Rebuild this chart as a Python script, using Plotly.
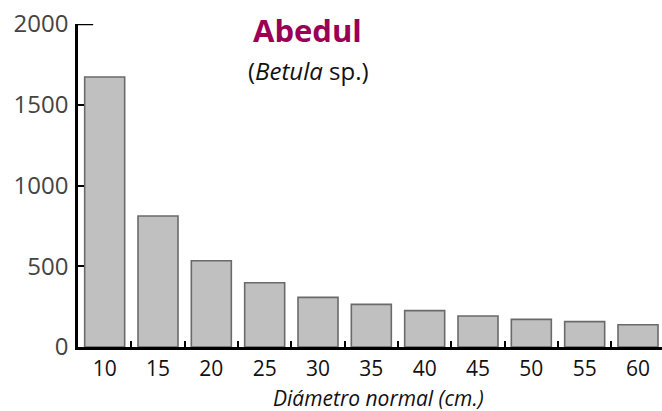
import plotly.graph_objects as go

categories = ["10", "15", "20", "25", "30", "35", "40", "45", "50", "55", "60"]
values = [1672, 811, 534, 398, 307, 264, 225, 192, 171, 157, 138]
y_ticks = [0, 500, 1000, 1500, 2000]
title_text = "Abedul"
subtitle_html = "(<i>Betula</i> sp.)"
x_title = "Diámetro normal (cm.)"

FONT = "Open Sans"

fig = go.Figure(
    go.Bar(
        x=categories,
        y=values,
        width=0.75,
        marker=dict(color="#c0c0c0", line=dict(color="#6a6a6a", width=1.6)),
    )
)

fig.update_layout(
    width=662,
    height=411,
    margin=dict(l=78, r=0, t=24, b=64),
    plot_bgcolor="white",
    paper_bgcolor="white",
    showlegend=False,
    font=dict(family=FONT, size=21, color="#222"),
)

fig.update_xaxes(
    type="category",
    range=[-0.5, 10.45],
    showgrid=False,
    showline=True,
    linecolor="black",
    linewidth=2.5,
    ticks="inside",
    tickson="boundaries",
    ticklen=6,
    tickwidth=2,
    tickcolor="black",
    tickfont=dict(family=FONT, size=21, color="#111"),
    ticklabelstandoff=1,
    zeroline=False,
)

fig.update_yaxes(
    range=[0, 2000],
    tickvals=y_ticks,
    showgrid=False,
    showline=True,
    linecolor="black",
    linewidth=2.5,
    ticks="inside",
    ticklen=6,
    tickwidth=2,
    tickcolor="black",
    tickfont=dict(family=FONT, size=24, color="#444"),
    ticklabelstandoff=2,
    zeroline=False,
)

# longer top tick at the axis maximum
fig.add_shape(type="line", xref="paper", yref="y", x0=0, x1=0.026, y0=y_ticks[-1], y1=y_ticks[-1],
              line=dict(color="black", width=2.5))

fig.add_annotation(text="<b>" + title_text + "</b>", xref="paper", yref="paper",
                   x=0.296, y=0.981, xanchor="left", yanchor="middle", showarrow=False,
                   font=dict(family=FONT, size=31, color="#990055"))
fig.add_annotation(text=subtitle_html, xref="paper", yref="paper",
                   x=0.288, y=0.855, xanchor="left", yanchor="middle", showarrow=False,
                   font=dict(family=FONT, size=24, color="#111"))
fig.add_annotation(text="<i>" + x_title + "</i>", xref="paper", yref="paper",
                   x=0.515, y=-0.158, xanchor="center", yanchor="middle", showarrow=False,
                   font=dict(family=FONT, size=21, color="#111"))

fig.write_html(
    "out.html",
    config={"displayModeBar": False},
    post_script="document.body.style.margin='0';document.body.style.overflow='hidden';",
)
